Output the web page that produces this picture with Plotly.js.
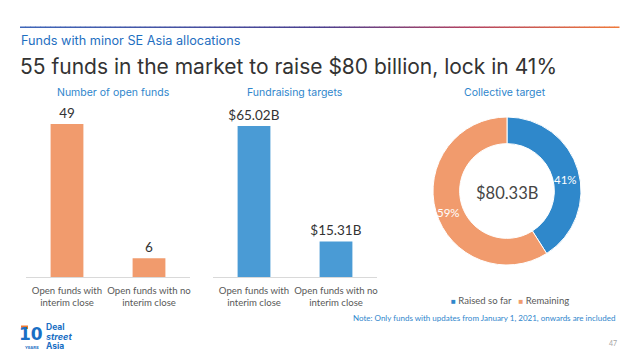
<!DOCTYPE html>
<html><head><meta charset="utf-8">
<script src="https://cdn.plot.ly/plotly-3.0.1.min.js"></script>
<style>html,body{margin:0;padding:0;background:#fff}</style>
</head><body>
<div id="chart" style="width:640px;height:360px"></div>
<script>
// ---- data ----
const categories = ["Open funds with<br>interim close", "Open funds with no<br>interim close"];
const fundCounts = [49, 6];
const fundTargets = [65.02, 15.31];
const donutLabels = ["Raised so far", "Remaining"];
const donutValues = [41, 59];
const collectiveTarget = 80.33;
const chartTitles = ["Number of open funds", "Fundraising targets", "Collective target"];

// ---- style ----
const ORANGE = "#f19b6d", BAR_BLUE = "#4a9bd5", DONUT_BLUE = "#2f88cb";
const DONUT_COLORS = [DONUT_BLUE, ORANGE];
const W = 640, H = 360;
const px = v => v / W, py = v => 1 - v / H;
const TITLE_FONT = "Inter, 'Open Sans', sans-serif";
const LATO = "Lato, 'Open Sans', sans-serif";

// donut geometry (pixels)
const dcx = 507, dcy = 191, dR = 74, HOLE = 0.64;

const traces = [
  {type: "bar", x: categories, y: fundCounts, xaxis: "x", yaxis: "y",
   marker: {color: ORANGE}, width: 0.4,
   text: fundCounts.map(String), textposition: "outside", constraintext: "none", cliponaxis: false,
   textfont: {family: LATO, size: 13.5, color: "#333"}, hoverinfo: "none"},
  {type: "bar", x: categories, y: fundTargets, xaxis: "x2", yaxis: "y2",
   marker: {color: BAR_BLUE}, width: 0.4,
   text: fundTargets.map(v => "$" + v.toFixed(2) + "B"), textposition: "outside", constraintext: "none", cliponaxis: false,
   textfont: {family: LATO, size: 13.5, color: "#333"}, hoverinfo: "none"},
  {type: "pie", labels: donutLabels, values: donutValues, hole: HOLE, sort: false,
   direction: "clockwise", rotation: 0,
   marker: {colors: DONUT_COLORS, line: {color: "#fff", width: 1}},
   textinfo: "none",
   domain: {x: [px(dcx - dR), px(dcx + dR)], y: [py(dcy + dR), py(dcy - dR)]}, showlegend: false, hoverinfo: "none"}
];

const plotTop = 110, plotBase = 277;
const axisCommon = {type: "category", showline: true, linecolor: "#d9d9d9", linewidth: 1,
  ticks: "", showgrid: false, zeroline: false, fixedrange: true, tickangle: 0, ticklabelstandoff: 4,
  tickfont: {family: LATO, size: 9.6, color: "#595959"}, range: [-0.5, 1.5]};
const yCommon = {visible: false, fixedrange: true, domain: [py(plotBase), py(plotTop)]};

const ann = [];
function txt(text, x, y, size, color, opts) {
  ann.push(Object.assign({text, x: px(x), y: py(y), xref: "paper", yref: "paper", showarrow: false,
    font: {family: TITLE_FONT, size, color}, xanchor: "center", yanchor: "middle"}, opts || {}));
}
txt("Funds with minor SE Asia allocations", 19, 40, 12.7, "#1f6fc1", {xanchor: "left"});
txt("55 funds in the market to raise $80 billion, lock in 41%", 18, 66, 21, "#333333", {xanchor: "left"});
txt(chartTitles[0], 113, 93, 10.5, "#2f86cc");
txt(chartTitles[1], 295, 93, 10.5, "#2f86cc");
txt(chartTitles[2], 505, 93, 10.5, "#2f86cc");
txt("$" + collectiveTarget.toFixed(2) + "B", dcx, 193, 16.5, "#454545", {font: {family: LATO, size: 16.5, color: "#454545"}});

// percentage labels on the donut, placed at each slice's mid-angle
const total = donutValues.reduce((a, b) => a + b, 0);
let cum = 0;
donutValues.forEach(v => {
  const mid = (cum + v / 2) / total * 2 * Math.PI;
  cum += v;
  const r = dR * (1 + HOLE) / 2;
  txt(Math.round(v / total * 100) + "%", dcx + r * Math.sin(mid), dcy - r * Math.cos(mid) + 5, 11.5, "#fff",
      {font: {family: LATO, size: 11.5, color: "#fff"}});
});

txt(donutLabels.map((l, i) => '<span style="color:' + DONUT_COLORS[i] + ';font-size:8px">■</span> ' + l).join("&nbsp;&nbsp;&nbsp;"),
    449, 300, 9.5, "#595959", {xanchor: "left", font: {family: LATO, size: 9.5, color: "#595959"}});
txt("Note: Only funds with updates from January 1, 2021, onwards are included", 617, 318, 8, "#2f86cc",
    {xanchor: "right", font: {family: LATO, size: 8, color: "#2f86cc"}});
txt("47", 619, 343, 7, "#a6a6a6", {xanchor: "right", font: {family: LATO, size: 7, color: "#a6a6a6"}});
// logo
txt("<b>10</b>", 30.5, 334, 17, "#1a6fc4", {font: {family: "'DejaVu Sans', sans-serif", size: 17, color: "#1a6fc4"}});
txt("<b>Deal</b>", 44, 327, 8.5, "#1a6fc4", {xanchor: "left", font: {family: "Inter, sans-serif", size: 8.5, color: "#1a6fc4"}});
txt("<b><i>street</i></b>", 44, 336.5, 9, "#1a6fc4", {xanchor: "left", font: {family: "Inter, sans-serif", size: 9, color: "#1a6fc4"}});
txt("<b>Asia</b>", 44, 346, 8.5, "#1a6fc4", {xanchor: "left", font: {family: "Inter, sans-serif", size: 8.5, color: "#1a6fc4"}});
txt("<b>YEARS</b>", 32, 347.5, 4, "#1a6fc4", {font: {family: "Inter, sans-serif", size: 4, color: "#1a6fc4"}});

// gradient rule at the top (decoration)
const shapes = [];
const stops = [[0, [63, 102, 184]], [0.5, [74, 63, 143]], [0.75, [178, 64, 95]], [1, [239, 122, 58]]];
function colAt(t) {
  for (let i = 0; i < stops.length - 1; i++) {
    const [t0, c0] = stops[i], [t1, c1] = stops[i + 1];
    if (t <= t1) { const f = (t - t0) / (t1 - t0); return "rgb(" + c0.map((c, k) => Math.round(c + (c1[k] - c) * f)).join(",") + ")"; }
  }
  return "rgb(239,122,58)";
}
const gx0 = 20, gx1 = 619, NSEG = 120;
for (let i = 0; i < NSEG; i++) {
  const a = gx0 + (gx1 - gx0) * i / NSEG, b = gx0 + (gx1 - gx0) * (i + 1) / NSEG + 0.5;
  shapes.push({type: "rect", xref: "paper", yref: "paper", x0: px(a), x1: px(b), y0: py(28), y1: py(26.5),
    fillcolor: colAt((i + 0.5) / NSEG), line: {width: 0}});
}
shapes.push({type: "rect", xref: "paper", yref: "paper", x0: px(21), x1: px(28), y0: py(329), y1: py(325.5), fillcolor: "#f07a30", line: {width: 0}});

const layout = {
  width: W, height: H, margin: {l: 0, r: 0, t: 0, b: 0},
  paper_bgcolor: "#fff", plot_bgcolor: "rgba(0,0,0,0)", showlegend: false,
  xaxis: Object.assign({}, axisCommon, {domain: [px(26), px(190)], anchor: "y"}),
  yaxis: Object.assign({}, yCommon, {range: [0, 49 * (plotBase - plotTop) / 153], anchor: "x"}),
  xaxis2: Object.assign({}, axisCommon, {domain: [px(213), px(377)], anchor: "y2"}),
  yaxis2: Object.assign({}, yCommon, {range: [0, 65.02 * (plotBase - plotTop) / 151], anchor: "x2"}),
  annotations: ann,
  shapes: shapes
};

Plotly.newPlot("chart", traces, layout, {staticPlot: true, displayModeBar: false});
</script>
</body></html>
